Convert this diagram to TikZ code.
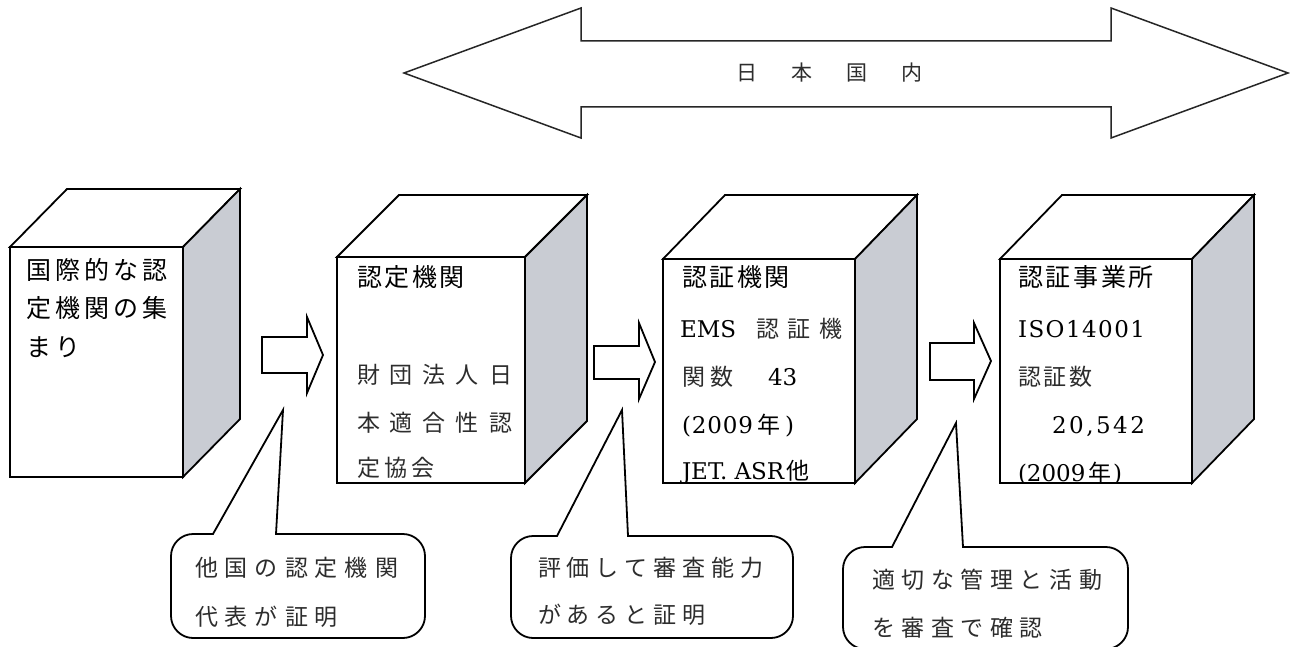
\documentclass[tikz,border=0pt]{standalone}
\usepackage{fontspec}
\setmainfont{DejaVu Serif}
\newfontfamily\jpg{Noto Sans CJK JP}
\newfontfamily\jpm{Noto Sans CJK JP}
\usetikzlibrary{calc}
\definecolor{sidegray}{RGB}{201,204,211}
\definecolor{mink}{RGB}{45,45,45}
\makeatletter
% letter-spaced text: \lsp{gap}chars\relax
\def\lsp#1{\def\lsp@sep{\kern#1\relax}\lsp@loop}
\def\lsp@loop#1{#1\futurelet\lsp@next\lsp@check}
\def\lsp@check{\ifx\lsp@next\relax\expandafter\lsp@end\else\lsp@sep\expandafter\lsp@loop\fi}
\def\lsp@end\relax{}
\makeatother
\newcommand\gsz{\jpg\fontsize{25}{30}\selectfont}
\newcommand\msz{\jpm\fontsize{23}{28}\selectfont}
\newcommand\lsz{\rmfamily\fontsize{23}{28}\selectfont}
\tikzset{
  lw/.style={line width=1.8pt, line join=miter},
  face/.style={lw, draw=black, fill=white, inner sep=0pt, outer sep=0pt, anchor=north west},
  topface/.style={lw, draw=black, fill=white},
  sideface/.style={lw, draw=black, fill=sidegray},
  txt/.style={anchor=base west, inner sep=0pt, outer sep=0pt},
  gth/.style={font=\gsz, text=black},
  mch/.style={font=\msz, text=mink},
  lat/.style={font=\lsz, text=black},
  blockarrow/.style={lw, draw=black, fill=white},
  callbody/.style={inner sep=0pt, outer sep=0pt, anchor=north west},
  callline/.style={lw, draw=black, fill=white},
  bigarrow/.style={line width=1.5pt, draw=black!85, fill=white, line join=miter},
}
% name, x, y, w, h, dx, dy
\newcommand\cube[7]{%
  \node[face, minimum width=#4pt, minimum height=#5pt] (#1) at (#2,#3) {};
  \draw[topface] (#1.north west) -- ++(#6,-#7) -- ($(#1.north east)+(#6,-#7)$) -- (#1.north east) -- cycle;
  \draw[sideface] (#1.north east) -- ++(#6,-#7) -- ($(#1.south east)+(#6,-#7)$) -- (#1.south east) -- cycle;
}
% name, tipname, a offset, b offset
\newcommand\callout[4]{%
  \draw[callline]
    ($(#1.south west)+(22,0)$) .. controls ($(#1.south west)+(10,0)$) and ($(#1.south west)+(0,-10)$) .. ($(#1.south west)+(0,-22)$)
    -- ($(#1.north west)+(0,22)$) .. controls ($(#1.north west)+(0,10)$) and ($(#1.north west)+(10,0)$) .. ($(#1.north west)+(22,0)$)
    -- ($(#1.north west)+(#3,0)$) -- (#2) -- ($(#1.north west)+(#4,0)$)
    -- ($(#1.north east)+(-22,0)$) .. controls ($(#1.north east)+(-10,0)$) and ($(#1.north east)+(0,10)$) .. ($(#1.north east)+(0,22)$)
    -- ($(#1.south east)+(0,-22)$) .. controls ($(#1.south east)+(0,-10)$) and ($(#1.south east)+(-10,0)$) .. ($(#1.south east)+(-22,0)$)
    -- cycle;
}
\begin{document}
\begin{tikzpicture}[x=1pt,y=-1pt]
\useasboundingbox (0,0) rectangle (1290,647);
\fill[white] (0,0) rectangle (1290,647);

% top double arrow
\draw[bigarrow] (404,73) -- (581,8) -- (581,41) -- (1111,41) -- (1111,8) -- (1288,73)
  -- (1111,138) -- (1111,107) -- (581,107) -- (581,138) -- cycle;
\node[txt, font=\jpm\fontsize{21}{25}\selectfont, text=mink] (jp) at (736,81) {\lsp{34pt}日本国内\relax};

% cubes
\cube{b1}{10}{247}{173}{230}{57}{58}
\cube{b2}{337}{257}{188}{226}{62}{62}
\cube{b3}{663}{259}{192}{224}{62}{64}
\cube{b4}{1000}{259}{192}{224}{62}{64}

% box 1 text
\begin{scope}
\clip (b1.north west) rectangle (b1.south east);
\node[txt, gth] (t11) at (27,279.5) {\lsp{4pt}国際的な認\relax};
\node[txt, gth] (t12) at (27,317.5) {\lsp{4pt}定機関の集\relax};
\node[txt, gth] (t13) at (27,356.5) {\lsp{4pt}まり\relax};
\end{scope}

% box 2 text
\begin{scope}
\clip (b2.north west) rectangle (b2.south east);
\node[txt, gth] (t21) at (357,286.5) {\lsp{2.5pt}認定機関\relax};
\node[txt, mch] (t22) at (357,383.7) {\lsp{10pt}財団法人日\relax};
\node[txt, mch] (t23) at (357,431.7) {\lsp{10pt}本適合性認\relax};
\node[txt, mch] (t24) at (357,476.7) {\lsp{4.5pt}定協会\relax};
\end{scope}

% box 3 text
\begin{scope}
\clip (b3.north west) rectangle (b3.south east);
\node[txt, gth] (t31) at (682,286.5) {\lsp{2.5pt}認証機関\relax};
\node[txt, lat] (t32) at (680,337) {EMS\kern20pt{\msz\color{mink}\lsp{8.5pt}認証機\relax}};
\node[txt, mch] (t33) at (682,385.7) {\lsp{5pt}関数\relax\kern35pt{\lsz\color{black}43}};
\node[txt, lat] (t34) at (682,433) {\hbox to 71pt{(\hfil 2\hfil 0\hfil 0\hfil 9}\kern4pt{\msz 年}\kern5pt)};
\node[txt, lat] (t35) at (682,479) {JET. ASR\kern2pt{\msz 他}};
\end{scope}

% box 4 text
\begin{scope}
\clip (b4.north west) rectangle (b4.south east);
\node[txt, gth] (t41) at (1018,286.5) {\lsp{2.7pt}認証事業所\relax};
\node[txt, lat] (t42) at (1018,337) {\hbox to 127pt{I\hfil S\hfil O\hfil 1\hfil 4\hfil 0\hfil 0\hfil 1}};
\node[txt, mch] (t43) at (1018,385.7) {\lsp{2.5pt}認証数\relax};
\node[txt, lat] (t44) at (1052,433) {\hbox to 93pt{2\hfil 0\hfil ,\hfil 5\hfil 4\hfil 2}};
\node[txt, lat] (t45) at (1018,481) {\hbox to 67pt{(\hfil 2\hfil 0\hfil 0\hfil 9}\kern3pt{\msz 年}\kern2pt)};
\end{scope}

% block arrows between cubes
\draw[blockarrow] (262,337) -- (307,337) -- (307,317) -- (323,355) -- (307,393) -- (307,373) -- (262,373) -- cycle;
\draw[blockarrow] (594,346) -- (639,346) -- (639,323) -- (655,362) -- (639,399) -- (639,379) -- (594,379) -- cycle;
\draw[blockarrow] (930,343) -- (974,343) -- (974,323) -- (991,361) -- (974,399) -- (974,380) -- (930,380) -- cycle;

% callouts
\coordinate (k1) at (283,410);
\coordinate (k2) at (622,410);
\coordinate (k3) at (956,423);
\node[callbody, minimum width=254pt, minimum height=104pt] (c1) at (171,534) {};
\node[callbody, minimum width=282pt, minimum height=102pt] (c2) at (511,536) {};
\node[callbody, minimum width=285pt, minimum height=102pt] (c3) at (843,547) {};
\callout{c1}{k1}{42}{105}
\callout{c2}{k2}{46}{117}
\callout{c3}{k3}{49}{120}

\node[txt, mch] (s11) at (195,576.7) {\lsp{7pt}他国の認定機関\relax};
\node[txt, mch] (s12) at (195,625.7) {\lsp{7pt}代表が証明\relax};
\node[txt, mch] (s21) at (538,576.7) {\lsp{5.9pt}評価して審査能力\relax};
\node[txt, mch] (s22) at (538,623.7) {\lsp{5.9pt}があると証明\relax};
\node[txt, mch] (s31) at (872,588.7) {\lsp{6.6pt}適切な管理と活動\relax};
\node[txt, mch] (s32) at (872,636.7) {\lsp{6.6pt}を審査で確認\relax};
\end{tikzpicture}
\end{document}
